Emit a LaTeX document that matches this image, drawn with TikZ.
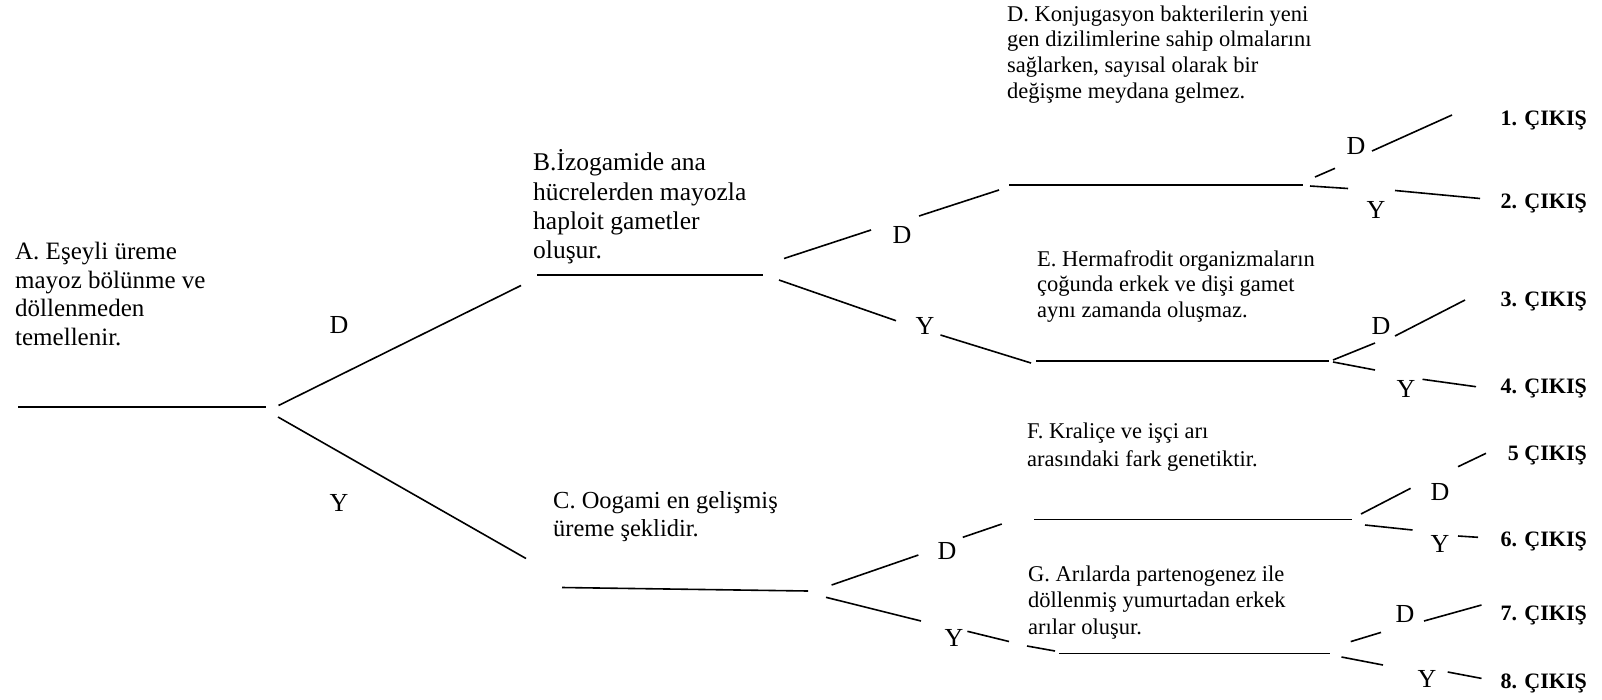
\documentclass[tikz,border=0pt]{standalone}
\usepackage{fontspec}
\setmainfont{Liberation Serif}
\begin{document}
\begin{tikzpicture}[x=1pt,y=-1pt,
  ln/.style={line width=1.6pt},
  bigtxt/.style={anchor=base west,inner sep=0pt,align=left,font=\fontsize{25}{28.6}\selectfont},
  smalltxt/.style={anchor=base west,inner sep=0pt,align=left,font=\fontsize{22.5}{25.8}\selectfont},
  lbl/.style={inner sep=0pt,font=\fontsize{26}{26}\selectfont},
  outlbl/.style={anchor=base east,inner sep=0pt,font=\bfseries\fontsize{22}{22}\selectfont}]
\useasboundingbox (0,0) rectangle (1602,699);
% texts (anchored at the baseline of their last line)
\node[bigtxt] (A) at (15,345.3) {A. Eşeyli üreme\\mayoz bölünme ve\\döllenmeden\\temellenir.};
\node[bigtxt,font=\fontsize{25.5}{29.2}\selectfont] (B) at (533,258.5) {B.İzogamide ana\\hücrelerden mayozla\\haploit gametler\\oluşur.};
\node[bigtxt,font=\fontsize{24.5}{28}\selectfont] (C) at (553,536) {C. Oogami en gelişmiş\\üreme şeklidir.};
\node[smalltxt] (D) at (1007,98.4) {D. Konjugasyon bakterilerin yeni\\gen dizilimlerine sahip olmalarını\\sağlarken, sayısal olarak bir\\değişme meydana gelmez.};
\node[smalltxt,font=\fontsize{22.5}{25.5}\selectfont] (E) at (1037,317) {E. Hermafrodit organizmaların\\çoğunda erkek ve dişi gamet\\aynı zamanda oluşmaz.};
\node[smalltxt,font=\fontsize{22.5}{28}\selectfont] (F) at (1027,466) {F. Kraliçe ve işçi arı\\arasındaki fark genetiktir.};
\node[smalltxt,font=\fontsize{22.5}{26.5}\selectfont] (G) at (1028,634) {G. Arılarda partenogenez ile\\döllenmiş yumurtadan erkek\\arılar oluşur.};
% D/Y labels
\node[lbl] (rD) at (339,325) {D};
\node[lbl] (rY) at (339,503) {Y};
\node[lbl] (bD) at (902,235) {D};
\node[lbl] (bY) at (925,326) {Y};
\node[lbl] (cD) at (947,551) {D};
\node[lbl] (cY) at (954,637.5) {Y};
\node[lbl] (dD) at (1356,146) {D};
\node[lbl] (dY) at (1376,210) {Y};
\node[lbl] (eD) at (1381,326) {D};
\node[lbl] (eY) at (1406,389) {Y};
\node[lbl] (fD) at (1440,492) {D};
\node[lbl] (fY) at (1440,544) {Y};
\node[lbl] (gD) at (1405,614.5) {D};
\node[lbl] (gY) at (1427,679) {Y};
% outputs
\node[outlbl] (o1) at (1587,125) {1. ÇIKIŞ};
\node[outlbl] (o2) at (1587,208) {2. ÇIKIŞ};
\node[outlbl] (o3) at (1587,306.5) {3. ÇIKIŞ};
\node[outlbl] (o4) at (1587,393) {4. ÇIKIŞ};
\node[outlbl] (o5) at (1587,460.5) {5 ÇIKIŞ};
\node[outlbl] (o6) at (1587,546.5) {6. ÇIKIŞ};
\node[outlbl] (o7) at (1587,620) {7. ÇIKIŞ};
\node[outlbl] (o8) at (1587,688.5) {8. ÇIKIŞ};
% coordinates
\coordinate (r0) at (18,406.7); \coordinate (r1) at (265.5,406.7);
\coordinate (rD0) at (278.5,405.5); \coordinate (rD1) at (521,285.5);
\coordinate (rY0) at (278,417); \coordinate (rY1) at (526,558.5);
\coordinate (b0) at (537,275); \coordinate (b1) at (763,275);
\coordinate (bD0) at (784,258.5); \coordinate (bD1) at (871,230);
\coordinate (bD2) at (919,216); \coordinate (bD3) at (999,190);
\coordinate (d0) at (1009,185); \coordinate (d1) at (1303,185);
\coordinate (bY0) at (779,280); \coordinate (bY1) at (896,320.7);
\coordinate (bY2) at (940.5,335); \coordinate (bY3) at (1031,363);
\coordinate (e0) at (1036,361); \coordinate (e1) at (1329,361);
\coordinate (c0) at (562,587.5); \coordinate (c1) at (808,591);
\coordinate (cD0) at (831.6,585); \coordinate (cD1) at (918.4,555);
\coordinate (cD2) at (962.8,537.3); \coordinate (cD3) at (1001.8,524);
\coordinate (f0) at (1034,519.5); \coordinate (f1) at (1352,519.5);
\coordinate (cY0) at (826,597.3); \coordinate (cY1) at (921,621);
\coordinate (cY2) at (967.4,631.3); \coordinate (cY3) at (1009,641.5);
\coordinate (cY4) at (1027,646); \coordinate (cY5) at (1055,651);
\coordinate (g0) at (1059,653.5); \coordinate (g1) at (1330,653.5);
% right branches
\coordinate (dD0) at (1315,177); \coordinate (dD1) at (1335,168.3);
\coordinate (dD2) at (1372,151); \coordinate (dD3) at (1452,115);
\coordinate (dY0) at (1310,186); \coordinate (dY1) at (1348,188.5);
\coordinate (dY2) at (1395,190.5); \coordinate (dY3) at (1480,198.5);
\coordinate (eD0) at (1333,360); \coordinate (eD1) at (1375,343);
\coordinate (eD2) at (1395,336); \coordinate (eD3) at (1465,300);
\coordinate (eY0) at (1333,362); \coordinate (eY1) at (1375,370);
\coordinate (eY2) at (1422.5,379.3); \coordinate (eY3) at (1476,386.7);
\coordinate (fD0) at (1361,514); \coordinate (fD1) at (1410.6,488.3);
\coordinate (fD2) at (1458,466.7); \coordinate (fD3) at (1486,453.3);
\coordinate (fY0) at (1365,525); \coordinate (fY1) at (1412.5,530);
\coordinate (fY2) at (1458,536); \coordinate (fY3) at (1478,537.3);
\coordinate (gD0) at (1350.7,641.6); \coordinate (gD1) at (1381,632.4);
\coordinate (gD2) at (1424,621); \coordinate (gD3) at (1481.5,605);
\coordinate (gY0) at (1341.5,657); \coordinate (gY1) at (1383,665);
\coordinate (gY2) at (1447.7,672); \coordinate (gY3) at (1481.5,678.4);
% lines
\draw[ln] (r0) -- (r1);
\draw[ln] (rD0) -- (rD1);
\draw[ln] (rY0) -- (rY1);
\draw[ln] (b0) -- (b1);
\draw[ln] (bD0) -- (bD1); \draw[ln] (bD2) -- (bD3);
\draw[ln] (d0) -- (d1);
\draw[ln] (bY0) -- (bY1); \draw[ln] (bY2) -- (bY3);
\draw[ln] (e0) -- (e1);
\draw[ln] (c0) -- (c1);
\draw[ln] (cD0) -- (cD1); \draw[ln] (cD2) -- (cD3);
\draw[ln] (f0) -- (f1);
\draw[ln] (cY0) -- (cY1); \draw[ln] (cY2) -- (cY3); \draw[ln] (cY4) -- (cY5);
\draw[ln] (g0) -- (g1);
\draw[ln] (dD0) -- (dD1); \draw[ln] (dD2) -- (dD3);
\draw[ln] (dY0) -- (dY1); \draw[ln] (dY2) -- (dY3);
\draw[ln] (eD0) -- (eD1); \draw[ln] (eD2) -- (eD3);
\draw[ln] (eY0) -- (eY1); \draw[ln] (eY2) -- (eY3);
\draw[ln] (fD0) -- (fD1); \draw[ln] (fD2) -- (fD3);
\draw[ln] (fY0) -- (fY1); \draw[ln] (fY2) -- (fY3);
\draw[ln] (gD0) -- (gD1); \draw[ln] (gD2) -- (gD3);
\draw[ln] (gY0) -- (gY1); \draw[ln] (gY2) -- (gY3);
\end{tikzpicture}
\end{document}
